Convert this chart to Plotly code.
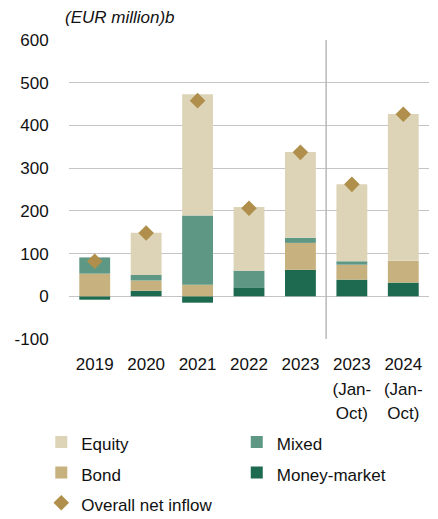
import plotly.graph_objects as go

categories = ["2019", "2020", "2021", "2022", "2023", "2023 (Jan-Oct)", "2024 (Jan-Oct)"]
tick_lines = [["2019"], ["2020"], ["2021"], ["2022"], ["2023"],
              ["2023", "(Jan-", "Oct)"], ["2024", "(Jan-", "Oct)"]]
money_market = [-8, 13, -15, 21, 62, 39, 32]
bond = [53, 24, 27, 0, 63, 35, 51]
mixed = [38, 13, 162, 39, 12, 8, 0]
equity = [0, 99, 284, 149, 201, 180, 344]
overall = [82, 148, 458, 206, 337, 262, 426]
y_ticks = [-100, 0, 100, 200, 300, 400, 500, 600]
y_tick_labels = ["-100", "0", "100", "200", "300", "400", "500", "600"]

FONT = "Liberation Sans, Arial, sans-serif"
C_EQ = "#DDD3B6"
C_BOND = "#C6B17F"
C_MIX = "#5E9884"
C_MM = "#1D6A50"
C_DIA = "#AF8F4B"


def sized(t, px=17):
    return "<span style='font-size:%dpx'>%s</span>" % (px, t)


tick_text = ["<br>".join(sized(s) for s in lines) for lines in tick_lines]

fig = go.Figure()
fig.add_trace(go.Bar(x=categories, y=money_market, name=sized("Money-market"), marker_color=C_MM,
                     marker_line_width=0, legend="legend2", legendrank=2))
fig.add_trace(go.Bar(x=categories, y=bond, name=sized("Bond"), marker_color=C_BOND,
                     marker_line_width=0, legend="legend", legendrank=2))
fig.add_trace(go.Bar(x=categories, y=mixed, name=sized("Mixed"), marker_color=C_MIX,
                     marker_line_width=0, legend="legend2", legendrank=1))
fig.add_trace(go.Bar(x=categories, y=equity, name=sized("Equity"), marker_color=C_EQ,
                     marker_line_width=0, legend="legend", legendrank=1))
fig.add_trace(go.Scatter(x=categories, y=overall, name=sized("Overall net inflow"), mode="markers",
                         marker=dict(symbol="diamond", size=12, color=C_DIA),
                         legend="legend", legendrank=3))

fig.add_shape(type="line", xref="x", yref="y", x0=4.5, x1=4.5, y0=-100, y1=600,
              line=dict(color="#B8B8B8", width=1.5), layer="above")

legend_common = dict(orientation="v", xref="paper", yref="container", xanchor="left",
                     yanchor="top", traceorder="normal", bgcolor="rgba(0,0,0,0)",
                     font=dict(family=FONT, size=21, color="#111"))

fig.update_layout(
    width=438, height=519,
    margin=dict(l=69, r=9, t=40, b=180),
    barmode="relative", bargap=0.4,
    plot_bgcolor="white", paper_bgcolor="white",
    font=dict(family=FONT, size=17, color="#111"),
    title=dict(text="<i>(EUR million)b</i>", xref="container", yref="container",
               x=65 / 438, xanchor="left", y=1 - 17 / 519, yanchor="middle",
               font=dict(family=FONT, size=17, color="#111")),
    showlegend=True,
    legend=dict(x=-0.077, y=0.187, **legend_common),
    legend2=dict(x=0.466, y=0.187, **legend_common),
    xaxis=dict(tickmode="array", tickvals=categories, ticktext=tick_text,
               showgrid=False, showline=False, ticks="outside", ticklen=7,
               tickcolor="rgba(0,0,0,0)", tickfont=dict(size=19), automargin=False),
    yaxis=dict(range=[-100, 600], tickmode="array", tickvals=y_ticks, ticktext=y_tick_labels,
               showgrid=True, gridcolor="#C4C4C4", gridwidth=1,
               zeroline=True, zerolinecolor="#C4C4C4", zerolinewidth=1, showline=False,
               ticks="outside", ticklen=16, tickcolor="rgba(0,0,0,0)", automargin=False),
)

fig.write_html("out.html", config={"displayModeBar": False},
               post_script="document.body.style.margin='0';")
